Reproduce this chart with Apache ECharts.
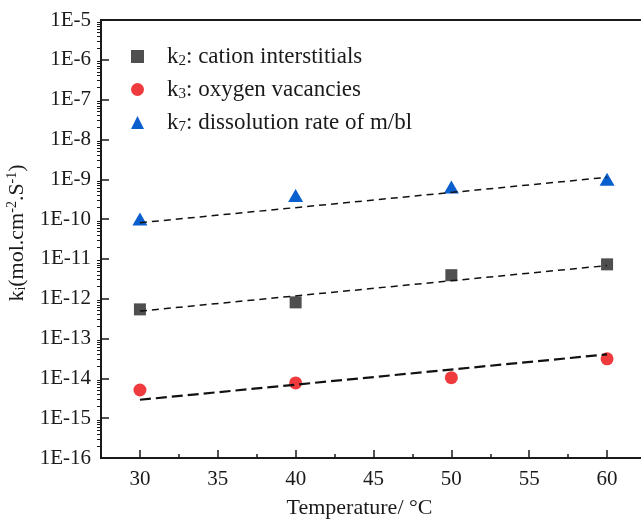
<!DOCTYPE html>
<html>
<head>
<meta charset="utf-8">
<script src="https://cdn.jsdelivr.net/npm/echarts@6/dist/echarts.min.js"></script>
<style>
  html, body { margin: 0; padding: 0; background: #ffffff; }
  #chart { width: 641px; height: 519px; }
</style>
</head>
<body>
<div id="chart"></div>
<script>
// Measured rate constants (mol.cm^-2.s^-1) at each temperature
const temperatures = [30, 40, 50, 60];
const k2Values = [5.4e-13, 8.1e-13, 3.9e-12, 7.3e-12];
const k3Values = [5.1e-15, 7.7e-15, 1.04e-14, 3.1e-14];
const k7Values = [1.0e-10, 3.9e-10, 6.4e-10, 1.0e-9];

// Fitted trend lines (end points over the temperature range)
const fitTemps = [30, 60];
const k2Fit = [4.9e-13, 6.8e-12];
const k3Fit = [2.9e-15, 4.0e-14];
const k7Fit = [8.1e-11, 1.12e-9];

// Axis ticks
const xMajorTicks = [30, 35, 40, 45, 50, 55, 60];
const yDecades = [-16, -15, -14, -13, -12, -11, -10, -9, -8, -7, -6, -5];

// Legend entries
const seriesSubs = ['2', '3', '7'];
const seriesDescs = ['cation interstitials', 'oxygen vacancies', 'dissolution rate of m/bl'];
const seriesColors = ['#4f4f4f', '#ef3b3d', '#0a5fcf'];

const FONT = '"Liberation Serif", "Times New Roman", serif';
const INK = '#1a1a1a';

// Minor log ticks (2..9 within each decade), expressed as log10 values
const yMinorTicks = [];
for (let n = yDecades[0]; n < yDecades[yDecades.length - 1]; n++) {
  for (let k = 2; k <= 9; k++) yMinorTicks.push(n + Math.log10(k));
}

const pairs = (xs, ys) => xs.map((x, i) => [x, ys[i]]);
const legendNames = seriesSubs.map((s, i) => 'k' + s + ': ' + seriesDescs[i]);

const chart = echarts.init(document.getElementById('chart'), null, { renderer: 'canvas' });

const fitLine = (name, xs, ys, width, dash) => ({
  name: name,
  type: 'line',
  data: pairs(xs, ys),
  symbol: 'none',
  silent: true,
  z: 5,
  lineStyle: { color: '#111111', width: width, type: dash }
});

chart.setOption({
  animation: false,
  backgroundColor: '#ffffff',
  textStyle: { fontFamily: FONT, color: INK },
  grid: {
    left: 101, top: 20, right: -5, bottom: 61,
    outerBoundsMode: 'none',
    containLabel: false,
    show: true, borderColor: '#1a1a1a', borderWidth: 2, backgroundColor: 'transparent'
  },
  legend: {
    data: legendNames,
    orient: 'vertical',
    left: 126,
    top: 40,
    itemWidth: 13,
    itemHeight: 13,
    itemGap: 9,
    formatter: function (name) {
      const i = legendNames.indexOf(name);
      return '{m|k}{s|' + seriesSubs[i] + '}{m|: ' + seriesDescs[i] + '}';
    },
    textStyle: {
      fontFamily: FONT,
      color: INK,
      fontSize: 23,
      padding: [0, 0, 0, 18],
      rich: {
        m: { fontFamily: FONT, fontSize: 23, color: INK, lineHeight: 24 },
        s: { fontFamily: FONT, fontSize: 15, color: INK, padding: [10, 0, 0, 0] }
      }
    }
  },
  xAxis: [
    {
      type: 'value',
      min: 27.5,
      max: 62.5,
      interval: 2.5,
      position: 'bottom',
      name: 'Temperature/ °C',
      nameLocation: 'middle',
      nameGap: 39,
      nameTextStyle: { fontFamily: FONT, fontSize: 22, color: INK, padding: [0, 28, 0, 0] },
      axisLine: { show: true, onZero: false, lineStyle: { color: '#1a1a1a', width: 2 } },
      axisTick: { show: true, inside: true, length: 4, lineStyle: { color: '#1a1a1a', width: 1.5 } },
      axisLabel: {
        fontFamily: FONT, fontSize: 21, color: INK, margin: 11,
        formatter: function (v) { return (Math.abs(v % 5) < 1e-9) ? String(v) : ''; }
      },
      splitLine: { show: false }
    },
    {
      type: 'value',
      min: 27.5,
      max: 62.5,
      position: 'bottom',
      axisLine: { show: false },
      axisLabel: { show: false },
      axisTick: {
        show: true, inside: true, length: 8, customValues: xMajorTicks,
        lineStyle: { color: '#1a1a1a', width: 1.5 }
      },
      splitLine: { show: false }
    }
  ],
  yAxis: [
    {
      type: 'log',
      logBase: 10,
      min: Math.pow(10, yDecades[0]),
      max: Math.pow(10, yDecades[yDecades.length - 1]),
      interval: 1,
      splitNumber: 11,
      position: 'left',
      name: '{a|k}{b|i}{a|(mol.cm}{c|-2}{a|.S}{c|-1}{a|)}',
      nameLocation: 'middle',
      nameGap: 65,
      nameRotate: 90,
      nameTextStyle: {
        fontFamily: FONT, fontSize: 22, color: INK,
        padding: [0, 0, 0, 12],
        rich: {
          a: { fontFamily: FONT, fontSize: 22, color: INK, lineHeight: 24 },
          b: { fontFamily: FONT, fontSize: 14, color: INK, padding: [9, 0, 0, 0] },
          c: { fontFamily: FONT, fontSize: 14, color: INK, padding: [0, 0, 10, 0] }
        }
      },
      axisLine: { show: true, onZero: false, lineStyle: { color: '#1a1a1a', width: 2 } },
      axisTick: { show: true, inside: true, length: 8, lineStyle: { color: '#1a1a1a', width: 1.5 } },
      axisLabel: {
        fontFamily: FONT, fontSize: 21, color: INK, margin: 10,
        formatter: function (v) { return '1E' + Math.round(Math.log10(v)); }
      },
      splitLine: { show: false }
    },
    {
      type: 'value',
      min: yDecades[0],
      max: yDecades[yDecades.length - 1],
      position: 'left',
      axisLine: { show: false },
      axisLabel: { show: false },
      axisTick: {
        show: true, inside: false, length: 4, customValues: yMinorTicks,
        lineStyle: { color: '#1a1a1a', width: 1 }
      },
      splitLine: { show: false }
    }
  ],
  series: [
    {
      name: legendNames[0], type: 'scatter', symbol: 'rect', symbolSize: 12,
      data: pairs(temperatures, k2Values), itemStyle: { color: seriesColors[0], opacity: 1 }, z: 3
    },
    {
      name: legendNames[1], type: 'scatter', symbol: 'circle', symbolSize: 13,
      data: pairs(temperatures, k3Values), itemStyle: { color: seriesColors[1], opacity: 1 }, z: 3
    },
    {
      name: legendNames[2], type: 'scatter', symbol: 'triangle', symbolSize: [15, 13],
      data: pairs(temperatures, k7Values), itemStyle: { color: seriesColors[2], opacity: 1 }, z: 3
    },
    fitLine('k2 fit', fitTemps, k2Fit, 1.5, [7, 5]),
    fitLine('k3 fit', fitTemps, k3Fit, 2.2, [11, 5]),
    fitLine('k7 fit', fitTemps, k7Fit, 1.5, [7, 5])
  ]
});
</script>
</body>
</html>
